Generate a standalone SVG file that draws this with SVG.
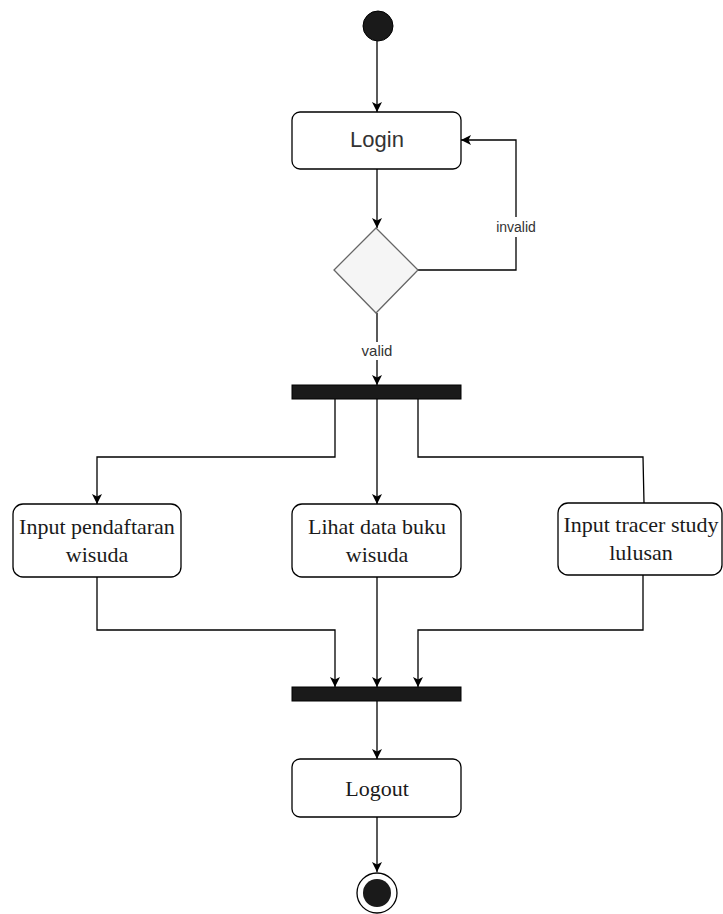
<svg xmlns="http://www.w3.org/2000/svg" width="723" height="914" viewBox="0 0 723 914">
<style>
.box{fill:#fff;stroke:#000;stroke-width:1.3}
.bar{fill:#1a1a1a;stroke:#000;stroke-width:1}
.ln{fill:none;stroke:#000;stroke-width:1.3}
.serif{font-family:"Liberation Serif","Times New Roman",serif;font-size:22px;fill:#1a1a1a;text-anchor:middle}
.sans{font-family:"Liberation Sans",Arial,sans-serif;fill:#333;text-anchor:middle}
</style>
<defs>
<marker id="ah" viewBox="0 0 10 10" refX="10" refY="5" markerWidth="10" markerHeight="10" markerUnits="userSpaceOnUse" orient="auto">
<path d="M0,0 L10,5 L0,10 L2.5,5 Z" fill="#000"/>
</marker>
</defs>
<rect width="723" height="914" fill="#fff"/>
<g id="connectors">
<path class="ln" d="M377,41 V112" marker-end="url(#ah)"/>
<path class="ln" d="M377,169 V228" marker-end="url(#ah)"/>
<path class="ln" d="M418,270 H516 V140 H461" marker-end="url(#ah)"/>
<path class="ln" d="M377,313 V385" marker-end="url(#ah)"/>
<path class="ln" d="M335,399 V457 H97 V504" marker-end="url(#ah)"/>
<path class="ln" d="M377,399 V504" marker-end="url(#ah)"/>
<path class="ln" d="M418,399 V457 H643 L644,503"/>
<path class="ln" d="M97,577 V630 H335 V687" marker-end="url(#ah)"/>
<path class="ln" d="M377,577 V687" marker-end="url(#ah)"/>
<path class="ln" d="M643,575 V630 H418 V687" marker-end="url(#ah)"/>
<path class="ln" d="M377,701 V759" marker-end="url(#ah)"/>
<path class="ln" d="M377,817 V872" marker-end="url(#ah)"/>
<rect x="494" y="217" width="44" height="20" fill="#fff"/>
<text class="sans" x="516" y="232" font-size="14">invalid</text>
<rect x="360" y="342" width="34" height="18" fill="#fff"/>
<text class="sans" x="377" y="356" font-size="15">valid</text>
</g>
<g id="start"><circle cx="378" cy="26" r="15" fill="#1a1a1a" stroke="#000"/></g>
<g id="login">
<rect class="box" x="292" y="112" width="169" height="57" rx="8"/>
<text class="sans" x="377" y="147" font-size="22">Login</text>
</g>
<g id="decision"><polygon points="376,228 418,270 376,313 334,270" fill="#f5f5f5" stroke="#666" stroke-width="1.3"/></g>
<g id="fork"><rect class="bar" x="292" y="385" width="169" height="14"/></g>
<g id="pendaftaran">
<rect class="box" x="13" y="504" width="168" height="73" rx="10"/>
<text class="serif" x="97" y="534">Input pendaftaran</text>
<text class="serif" x="97" y="562">wisuda</text>
</g>
<g id="lihat">
<rect class="box" x="292" y="504" width="169" height="73" rx="10"/>
<text class="serif" x="377" y="534">Lihat data buku</text>
<text class="serif" x="377" y="562">wisuda</text>
</g>
<g id="tracer">
<rect class="box" x="558" y="503" width="164" height="72" rx="10"/>
<text class="serif" x="641" y="532">Input tracer study</text>
<text class="serif" x="641" y="560">lulusan</text>
</g>
<g id="join"><rect class="bar" x="292" y="687" width="169" height="14"/></g>
<g id="logout">
<rect class="box" x="292" y="759" width="169" height="58" rx="8"/>
<text class="serif" x="377" y="796">Logout</text>
</g>
<g id="end">
<circle cx="377" cy="893" r="20" fill="#fff" stroke="#000" stroke-width="1.3"/>
<circle cx="377" cy="893" r="14" fill="#1a1a1a"/>
</g>
</svg>
